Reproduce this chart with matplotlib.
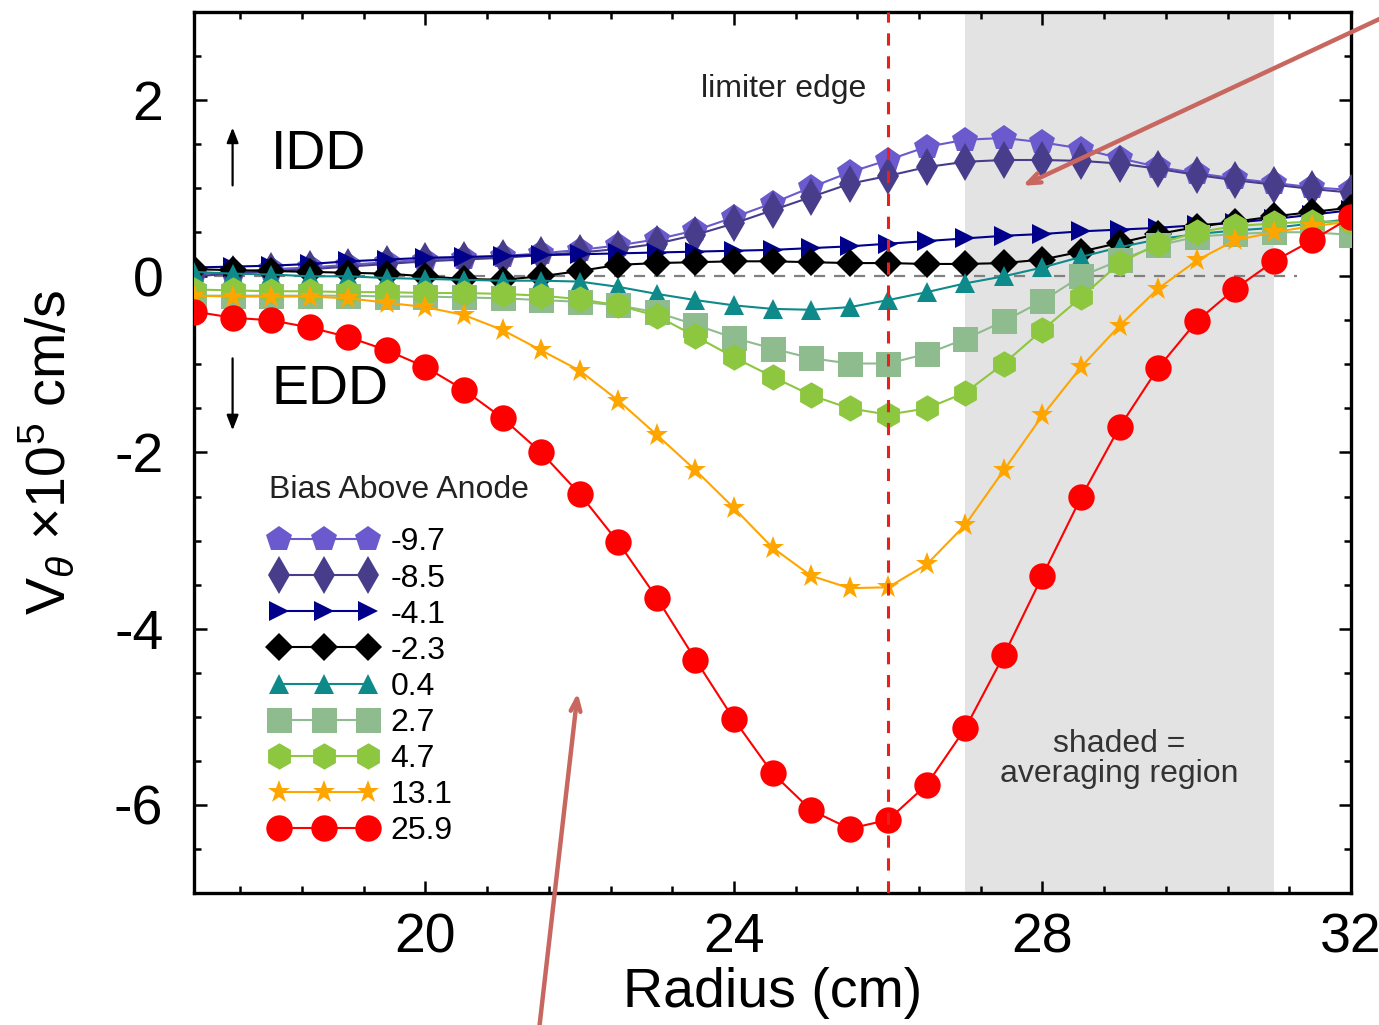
import numpy as np
import matplotlib
matplotlib.use("Agg")
import matplotlib.pyplot as plt
from matplotlib.ticker import MultipleLocator

plt.rcParams['font.family'] = ['Liberation Sans', 'DejaVu Sans']
plt.rcParams['mathtext.fontset'] = 'custom'
plt.rcParams['mathtext.rm'] = 'Liberation Sans'
plt.rcParams['mathtext.it'] = 'Liberation Sans:italic'
plt.rcParams['axes.unicode_minus'] = False

radius = [17.0, 17.5, 18.0, 18.5, 19.0, 19.5, 20.0, 20.5, 21.0, 21.5, 22.0,
          22.5, 23.0, 23.5, 24.0, 24.5, 25.0, 25.5, 26.0, 26.5, 27.0, 27.5,
          28.0, 28.5, 29.0, 29.5, 30.0, 30.5, 31.0, 31.5, 32.0]

v_m9_7 = [0.02, 0.05, 0.08, 0.10, 0.13, 0.16, 0.19, 0.21, 0.23, 0.26, 0.30,
          0.35, 0.42, 0.52, 0.67, 0.83, 1.01, 1.18, 1.32, 1.47, 1.55, 1.57,
          1.52, 1.45, 1.34, 1.24, 1.17, 1.11, 1.06, 1.01, 0.98]
v_m8_5 = [0.00, 0.03, 0.06, 0.08, 0.11, 0.14, 0.17, 0.19, 0.21, 0.24, 0.27,
          0.31, 0.37, 0.47, 0.60, 0.75, 0.90, 1.05, 1.14, 1.24, 1.30, 1.32,
          1.32, 1.31, 1.28, 1.22, 1.15, 1.09, 1.04, 0.99, 0.95]
v_m4_1 = [0.10, 0.11, 0.12, 0.14, 0.17, 0.19, 0.21, 0.22, 0.23, 0.24, 0.25,
          0.26, 0.27, 0.28, 0.29, 0.30, 0.32, 0.34, 0.37, 0.40, 0.43, 0.46,
          0.48, 0.51, 0.53, 0.55, 0.58, 0.61, 0.65, 0.70, 0.75]
v_m2_3 = [0.08, 0.07, 0.06, 0.05, 0.04, 0.03, 0.00, -0.03, -0.04, 0.00, 0.06,
          0.13, 0.15, 0.16, 0.17, 0.17, 0.16, 0.15, 0.15, 0.14, 0.14, 0.15,
          0.19, 0.28, 0.38, 0.48, 0.56, 0.62, 0.68, 0.73, 0.78]
v_0_4 = [0.05, 0.03, 0.02, 0.00, 0.00, -0.02, -0.03, -0.04, -0.05, -0.05, -0.06,
         -0.12, -0.20, -0.27, -0.33, -0.37, -0.38, -0.35, -0.27, -0.18, -0.08, 0.00,
         0.10, 0.22, 0.33, 0.42, 0.48, 0.52, 0.55, 0.60, 0.65]
v_2_7 = [-0.22, -0.22, -0.22, -0.22, -0.22, -0.23, -0.23, -0.24, -0.25, -0.27, -0.29,
         -0.33, -0.41, -0.55, -0.70, -0.82, -0.93, -0.99, -0.99, -0.88, -0.71, -0.51,
         -0.28, 0.00, 0.18, 0.35, 0.45, 0.48, 0.50, 0.50, 0.47]
v_4_7 = [-0.15, -0.16, -0.17, -0.17, -0.18, -0.18, -0.19, -0.19, -0.20, -0.22, -0.26,
         -0.33, -0.45, -0.68, -0.92, -1.14, -1.35, -1.50, -1.57, -1.50, -1.32, -0.99,
         -0.61, -0.24, 0.15, 0.37, 0.50, 0.57, 0.60, 0.62, 0.62]
v_13_1 = [-0.22, -0.23, -0.23, -0.23, -0.25, -0.30, -0.35, -0.44, -0.61, -0.84, -1.07,
          -1.41, -1.80, -2.20, -2.63, -3.08, -3.40, -3.54, -3.53, -3.27, -2.82, -2.20,
          -1.58, -1.03, -0.56, -0.14, 0.18, 0.41, 0.50, 0.57, 0.62]
v_25_9 = [-0.40, -0.47, -0.50, -0.58, -0.69, -0.84, -1.03, -1.29, -1.61, -2.00, -2.47,
          -3.02, -3.65, -4.35, -5.03, -5.64, -6.06, -6.27, -6.17, -5.77, -5.13, -4.30,
          -3.40, -2.51, -1.71, -1.04, -0.51, -0.14, 0.17, 0.41, 0.67]

bias_labels = ['-9.7', '-8.5', '-4.1', '-2.3', '0.4', '2.7', '4.7', '13.1', '25.9']
series = [v_m9_7, v_m8_5, v_m4_1, v_m2_3, v_0_4, v_2_7, v_4_7, v_13_1, v_25_9]
colors = ['#6a5acd', '#483d8b', '#00008b', '#000000', '#0e8a8a', '#8fbc8f',
          '#8dc63f', '#ffa500', '#ff0000']
markers = ['p', 'd', '>', 'D', '^', 's', 'h', '*', 'o']
msizes = [19, 19, 15, 14, 15, 18, 19, 17, 19]

limiter_edge = 26.0
shade_range = (27.0, 31.0)

fig = plt.figure(figsize=(13.79, 10.25), dpi=100)
ax = fig.add_axes([0.1407, 0.1288, 0.8390, 0.8595])

ax.axvspan(shade_range[0], shade_range[1], color='#e3e3e3', zorder=0, lw=0)
ax.hlines(0, 17, 31.3, colors='#808080', linestyles=(0, (5, 4)), lw=1.6, zorder=1)

for vals, c, m, ms, lab in zip(series, colors, markers, msizes, bias_labels):
    ax.plot(radius, vals, color=c, marker=m, markersize=ms, lw=1.5,
            markeredgewidth=0, label=lab, zorder=3)

ax.axvline(limiter_edge, color='#e8201c', ls=(0, (4, 3.5)), lw=2.2, zorder=5)

ax.set_xlim(17, 32)
ax.set_ylim(-7, 3)
ax.xaxis.set_major_locator(MultipleLocator(4))
ax.xaxis.set_minor_locator(MultipleLocator(0.8))
ax.yaxis.set_major_locator(MultipleLocator(2))
ax.yaxis.set_minor_locator(MultipleLocator(0.5))
ax.tick_params(which='both', direction='in', top=True, right=True, width=1.8,
               labelsize=40, colors='black')
ax.tick_params(axis='x', which='major', length=9, pad=14)
ax.tick_params(axis='y', which='major', length=9, pad=22)
ax.tick_params(which='minor', length=5)
for s in ax.spines.values():
    s.set_linewidth(2.4)

ax.set_xlabel('Radius (cm)', fontsize=40, labelpad=2)
ax.set_ylabel(r'V$_{\theta}$ $\times$10$^{5}$ cm/s', fontsize=40, labelpad=27)

ax.text(25.72, 2.13, 'limiter edge', fontsize=23, ha='right', va='center', color='#222222')
ax.text(18.0, 1.38, 'IDD', fontsize=40, ha='left', va='center')
ax.text(18.0, -1.29, 'EDD', fontsize=40, ha='left', va='center')
ax.annotate('', xy=(17.5, 1.72), xytext=(17.5, 1.00),
            arrowprops=dict(arrowstyle='-|>,head_length=0.9,head_width=0.35', lw=1.6, color='black'))
ax.annotate('', xy=(17.5, -1.78), xytext=(17.5, -0.90),
            arrowprops=dict(arrowstyle='-|>,head_length=0.9,head_width=0.35', lw=1.6, color='black'))
ax.text(29.0, -5.48, 'shaded =\naveraging region', fontsize=23, ha='center', va='center',
        color='#333333', linespacing=1.0)

leg = ax.legend(loc='upper left', bbox_to_anchor=(0.065, 0.4742), frameon=False,
                numpoints=3, fontsize=23, title='Bias Above Anode', title_fontsize=23,
                handlelength=3.4, handletextpad=0.4, labelspacing=0.19,
                borderpad=0, borderaxespad=0, alignment='left')
leg.get_title().set_color('#222222')
leg._legend_box.sep = 16

arrow_col = '#c8675f'
ax.annotate('', xy=(1020 / 1379, 1 - 187 / 1025), xycoords='figure fraction',
            xytext=(1.005, 1 - 16 / 1025), textcoords='figure fraction',
            arrowprops=dict(arrowstyle='->,head_length=0.9,head_width=0.35', lw=3.2,
                            color=arrow_col), annotation_clip=False)
ax.annotate('', xy=(578 / 1379, 1 - 690 / 1025), xycoords='figure fraction',
            xytext=(539 / 1379, -0.005), textcoords='figure fraction',
            arrowprops=dict(arrowstyle='->,head_length=0.9,head_width=0.35', lw=3.2,
                            color=arrow_col), annotation_clip=False)

fig.savefig('out.png', dpi=100)
